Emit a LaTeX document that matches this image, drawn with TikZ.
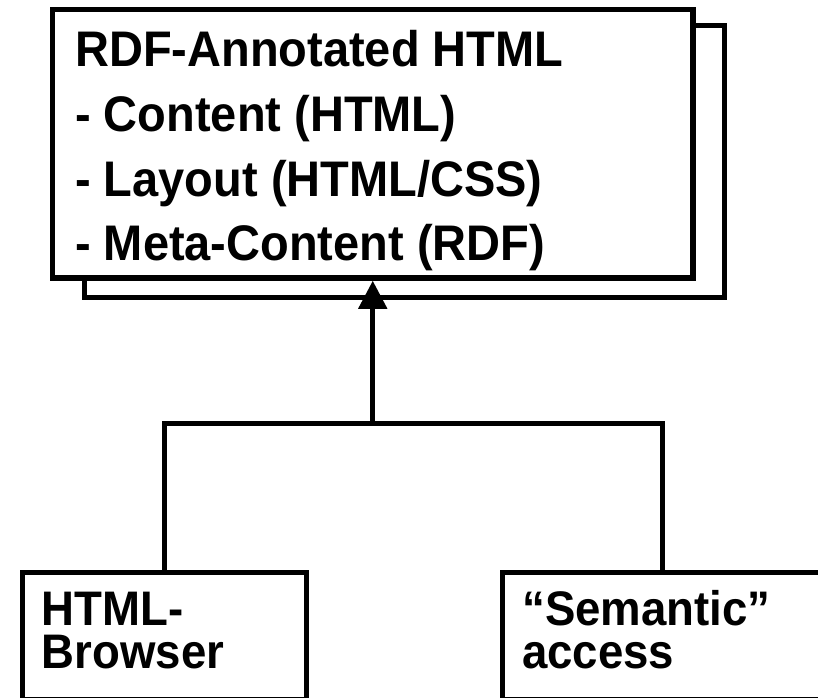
\documentclass[tikz,border=0pt]{standalone}
\usepackage{fontspec}
\setmainfont{Liberation Sans}
% slightly condensed cut of the same face, for taller letters at the same width
\newfontfamily\tallsans[FakeStretch=0.94]{Liberation Sans}
\usetikzlibrary{arrows.meta}

\tikzset{
  box/.style={draw=black, fill=white, rectangle, inner sep=0pt},
  label text/.style={anchor=base west, inner sep=0pt, font=\tallsans\bfseries\fontsize{50}{56}\selectfont},
  small text/.style={anchor=base west, inner sep=0pt, align=left, font=\tallsans\bfseries\fontsize{48.5}{43}\selectfont},
  link/.style={draw=black, line width=5pt},
}

\begin{document}
\begin{tikzpicture}[x=1pt, y=-1pt]
  \useasboundingbox (0,0) rectangle (818,697);
  \clip (0,0) rectangle (818,697);

  % stacked document: back sheet, then front sheet
  \node[box, line width=5pt, minimum width=640pt, minimum height=272pt] (back) at (404.5,161.5) {};
  \node[box, line width=5.5pt, minimum width=640.5pt, minimum height=268.5pt] (front) at (372.75,143.75) {};

  \node[label text] (t1) at (75,66)  {RDF-Annotated HTML};
  \node[label text] (t2) at (75,131) {- Content (HTML)};
  \node[label text] (t3) at (75,196) {- Layout (HTML/CSS)};
  \node[label text] (t4) at (75,260) {- Meta-Content (RDF)};

  % consumers
  \node[box, line width=5pt, minimum width=283.5pt, minimum height=127pt] (browser) at (164.25,635.5) {};
  \node[box, line width=5pt, minimum width=319pt, minimum height=127pt] (semantic) at (662,635.5) {};

  % two-line captions; the anchor sits on the second line's baseline
  \node[small text] (btext) at (41.5,668) {HTML-\\Browser};
  \node[small text] (stext) at (522,668) {“Semantic”\\access};

  % connectors
  \coordinate (join) at (front.south |- 0,423);
  \draw[link] (browser.north) |- (join) -| (semantic.north);
  \draw[link, -{Triangle[width=28pt,length=28pt]}] (join) -- (front.south);
\end{tikzpicture}
\end{document}
